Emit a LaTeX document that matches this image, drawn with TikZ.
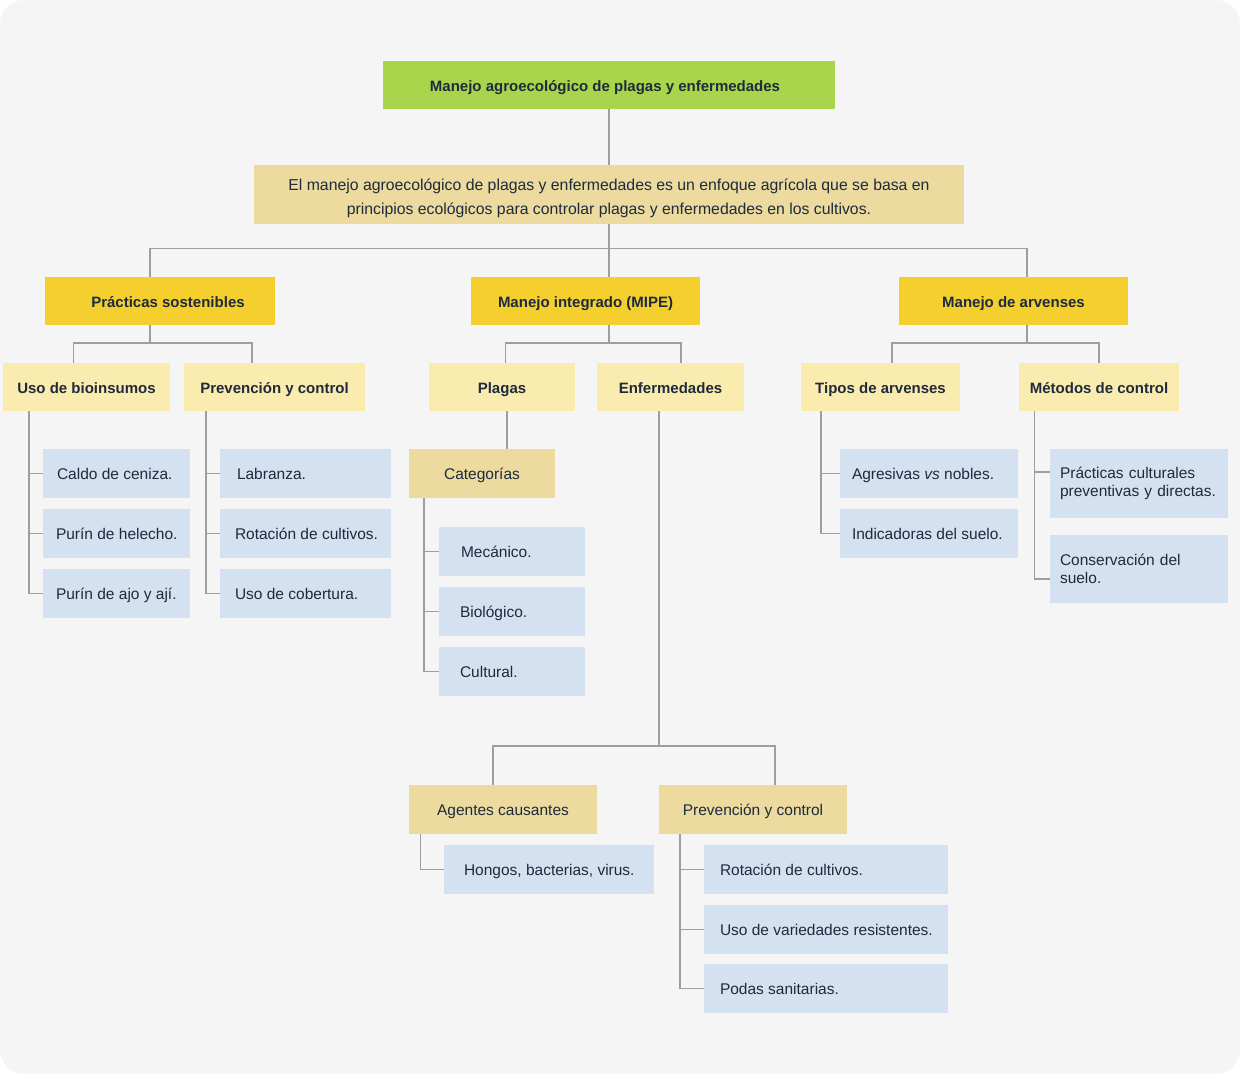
\documentclass[tikz,border=0pt]{standalone}
\usepackage{fontspec}
\setmainfont{Liberation Sans}
\definecolor{bgc}{HTML}{F5F5F5}
\definecolor{greenc}{HTML}{A8D54B}
\definecolor{tanc}{HTML}{ECDA9E}
\definecolor{yelc}{HTML}{F4CF2E}
\definecolor{lyelc}{HTML}{FAECAE}
\definecolor{bluec}{HTML}{D3E1F1}
\definecolor{txtc}{HTML}{1D2B3D}
\definecolor{linec}{HTML}{9E9E9E}
\newcommand{\lbox}[2]{\makebox[#1pt][l]{#2}}
\begin{document}
\begin{tikzpicture}[x=1pt,y=-1pt,
  base/.style={rectangle, inner sep=0pt, text=txtc, align=center},
  oneline/.style={text height=15pt, text depth=2.5pt},
  head/.style={base, oneline, font=\fontsize{15}{18}\selectfont\bfseries, minimum height=48},
  titlebox/.style={head, fill=greenc},
  lvtwo/.style={head, fill=yelc},
  lvthree/.style={head, fill=lyelc},
  tanbox/.style={base, oneline, fill=tanc, font=\fontsize{15.5}{18}\selectfont, minimum height=49},
  leaf/.style={base, oneline, fill=bluec, font=\fontsize{15.5}{18}\selectfont, minimum height=49},
  leaftwo/.style={base, fill=bluec, align=left, font=\fontsize{15.5}{18.5}\selectfont},
  conn/.style={draw=linec, line width=1.5pt}]
\useasboundingbox (0,0) rectangle (1240,1074);
\fill[white] (0,0) rectangle (1240,1074);
\fill[bgc, rounded corners=24pt] (0,0) rectangle (1240,1074);

% top
\node[titlebox, minimum width=452] (title) at (609,85) {Manejo agroecológico de plagas y enfermedades\hspace*{8pt}};
\node[base, fill=tanc, minimum width=710, minimum height=59, font=\fontsize{15.8}{24}\selectfont] (desc) at (609,194.5)
  {\raisebox{-3.5pt}[\height][\depth]{\begin{tabular}{@{}c@{}}El manejo agroecológico de plagas y enfermedades es un enfoque agrícola que se basa en\\principios ecológicos para controlar plagas y enfermedades en los cultivos.\end{tabular}}};

% level 2
\node[lvtwo, minimum width=230] (ps) at (160,301) {\hspace*{16pt}Prácticas sostenibles};
\node[lvtwo, minimum width=229] (mi) at (585.5,301) {Manejo integrado (MIPE)};
\node[lvtwo, minimum width=229] (ma) at (1013.5,301) {Manejo de arvenses};

% level 3
\node[lvthree, minimum width=167] (ub) at (86.5,387) {Uso de bioinsumos};
\node[lvthree, minimum width=181] (pc1) at (274.5,387) {Prevención y control};
\node[lvthree, minimum width=146] (pl) at (502,387) {Plagas};
\node[lvthree, minimum width=147] (en) at (670.5,387) {Enfermedades};
\node[lvthree, minimum width=159] (ta) at (880.5,387) {Tipos de arvenses};
\node[lvthree, minimum width=160] (mc) at (1099,387) {Métodos de control};

% leaves
\node[leaf, minimum width=147] (c1) at (116.5,473.5) {\lbox{119}{Caldo de ceniza.}};
\node[leaf, minimum width=147] (c2) at (116.5,533.5) {\lbox{121}{Purín de helecho.}};
\node[leaf, minimum width=147] (c3) at (116.5,593.5) {\lbox{121}{Purín de ajo y ají.}};

\node[leaf, minimum width=171] (l1) at (305.5,473.5) {\lbox{137}{Labranza.}};
\node[leaf, minimum width=171] (l2) at (305.5,533.5) {\lbox{141}{Rotación de cultivos.}};
\node[leaf, minimum width=171] (l3) at (305.5,593.5) {\lbox{141}{Uso de cobertura.}};

\node[tanbox, minimum width=146] (cat) at (482,473.5) {Categorías};
\node[leaf, minimum width=146] (m1) at (512,551.5) {\lbox{102}{Mecánico.}};
\node[leaf, minimum width=146] (m2) at (512,611.5) {\lbox{104}{Biológico.}};
\node[leaf, minimum width=146] (m3) at (512,671.5) {\lbox{104}{Cultural.}};

\node[leaf, minimum width=178] (a1) at (929,473.5) {\lbox{154}{Agresivas \textit{vs} nobles.}};
\node[leaf, minimum width=178] (a2) at (929,533.5) {\lbox{154}{Indicadoras del suelo.}};

\node[leaftwo, minimum width=178, minimum height=69, text width=158] (p1) at (1139,483.5) {Prácticas culturales\\preventivas y directas.};
\node[leaftwo, minimum width=178, minimum height=68, text width=158] (p2) at (1139,569) {Conservación del\\suelo.};

\node[tanbox, minimum width=188] (ag) at (503,809.5) {Agentes causantes};
\node[tanbox, minimum width=188] (pv) at (753,809.5) {Prevención y control};

\node[leaf, minimum width=210] (h1) at (549,869.5) {\lbox{170}{Hongos, bacterias, virus.}};

\node[leaf, minimum width=244] (r1) at (826,869.5) {\lbox{212}{Rotación de cultivos.}};
\node[leaf, minimum width=244] (r2) at (826,929.5) {\lbox{212}{Uso de variedades resistentes.}};
\node[leaf, minimum width=244] (r3) at (826,988.5) {\lbox{212}{Podas sanitarias.}};

% connectors
\draw[conn] (title.south) -- (desc.north);
\draw[conn] (desc.south) -- ++(0,24.5) coordinate (b1);
\draw[conn] ([xshift=-10pt]ps.north) |- (b1) -| ([xshift=13.5pt]ma.north);
\draw[conn] (b1) -- ([xshift=23.5pt]mi.north);

\draw[conn] ([xshift=-10pt]ps.south) -- ++(0,18) coordinate (b2);
\draw[conn] ([xshift=-13pt]ub.north) |- (b2) -| ([xshift=-22.5pt]pc1.north);

\draw[conn] ([xshift=23.5pt]mi.south) -- ++(0,18) coordinate (b3);
\draw[conn] ([xshift=3.5pt]pl.north) |- (b3) -| ([xshift=10.5pt]en.north);

\draw[conn] ([xshift=13.5pt]ma.south) -- ++(0,18) coordinate (b4);
\draw[conn] ([xshift=11.5pt]ta.north) |- (b4) -| (mc.north);

\draw[conn] ([xshift=26pt]ub.south west) |- (c3.west);
\draw[conn] (c1.west) -- ++(-14,0);
\draw[conn] (c2.west) -- ++(-14,0);

\draw[conn] ([xshift=22pt]pc1.south west) |- (l3.west);
\draw[conn] (l1.west) -- ++(-14,0);
\draw[conn] (l2.west) -- ++(-14,0);

\draw[conn] ([xshift=5pt]pl.south) -- ([xshift=25pt]cat.north);
\draw[conn] ([xshift=15pt]cat.south west) |- (m3.west);
\draw[conn] (m1.west) -- ++(-15,0);
\draw[conn] (m2.west) -- ++(-15,0);

\draw[conn] ([xshift=-11.5pt]en.south) -- ++(0,335) coordinate (b5);
\draw[conn] ([xshift=-10pt]ag.north) |- (b5) -| ([xshift=22pt]pv.north);
\draw[conn] ([xshift=11.5pt]ag.south west) |- (h1.west);

\draw[conn] ([xshift=21pt]pv.south west) |- (r3.west);
\draw[conn] (r1.west) -- ++(-24,0);
\draw[conn] (r2.west) -- ++(-24,0);

\draw[conn] ([xshift=20pt]ta.south west) |- (a2.west);
\draw[conn] (a1.west) -- ++(-19,0);

\draw[conn] ([xshift=15.5pt]mc.south west) |- ([yshift=-10pt]p2.west);
\draw[conn] ([yshift=-23pt]p1.north west) -- ++(-15.5,0);
\end{tikzpicture}
\end{document}
